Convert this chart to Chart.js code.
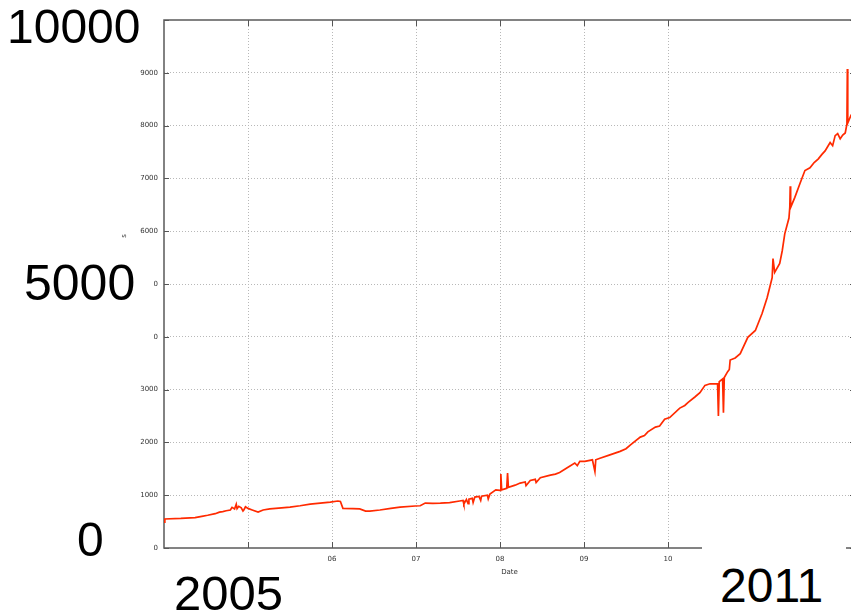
<!DOCTYPE html>
<html>
<head>
<meta charset="utf-8">
<script src="https://cdn.jsdelivr.net/npm/chart.js@4/dist/chart.umd.min.js"></script>
<style>
  html, body { margin: 0; padding: 0; background: #fff; overflow: hidden; width: 851px; height: 614px; }
  #wrap { position: relative; width: 851px; height: 614px; overflow: hidden; }
  #wrap canvas { position: absolute; left: 0; top: 0; }
  .mask { position: absolute; background: #fff; }
  .big { position: absolute; font-family: "Liberation Sans", Arial, sans-serif; font-size: 48px; line-height: 48px; color: #000; white-space: nowrap; }
</style>
</head>
<body>
<div id="wrap">
  <canvas id="c" width="860" height="614"></canvas>
  <div class="mask" style="left:20px;top:245px;width:133px;height:100px"></div>
  <div class="mask" style="left:150px;top:551px;width:145px;height:63px"></div>
  <div class="mask" style="left:702px;top:532px;width:144px;height:82px"></div>
  <div class="big" style="left:7px;top:3px">10000</div>
  <div class="big" style="left:24px;top:258px;font-size:50px;line-height:50px">5000</div>
  <div class="big" style="left:77px;top:516px">0</div>
  <div class="big" style="left:174px;top:569px;font-size:49px;line-height:49px">2005</div>
  <div class="big" style="left:720px;top:562px">2011</div>
</div>
<script>
// Daily totals, sampled as decimal years
const dates = [
  2004.00, 2004.01, 2004.20, 2004.37, 2004.45, 2004.52, 2004.61, 2004.66, 2004.70, 2004.74,
  2004.79, 2004.81, 2004.84, 2004.86, 2004.87, 2004.89, 2004.92, 2004.94, 2004.95, 2004.97,
  2005.00, 2005.05, 2005.12, 2005.18, 2005.26, 2005.40, 2005.50, 2005.62, 2005.74, 2005.86,
  2005.98, 2006.07, 2006.10, 2006.13, 2006.25, 2006.33, 2006.40, 2006.45, 2006.57, 2006.70,
  2006.81, 2006.99, 2007.05, 2007.11, 2007.20, 2007.29, 2007.40, 2007.52, 2007.56, 2007.57,
  2007.60, 2007.62, 2007.63, 2007.67, 2007.68, 2007.70, 2007.75, 2007.77, 2007.78, 2007.85,
  2007.86, 2007.88, 2007.95, 2008.00, 2008.01, 2008.02, 2008.08, 2008.09, 2008.10, 2008.18,
  2008.24, 2008.30, 2008.31, 2008.36, 2008.42, 2008.43, 2008.48, 2008.60, 2008.66, 2008.71,
  2008.80, 2008.89, 2008.92, 2008.95, 2009.01, 2009.10, 2009.13, 2009.14, 2009.19, 2009.30,
  2009.43, 2009.50, 2009.55, 2009.67, 2009.72, 2009.76, 2009.85, 2009.90, 2009.96, 2010.02,
  2010.14, 2010.20, 2010.24, 2010.32, 2010.38, 2010.44, 2010.50, 2010.59, 2010.60, 2010.61,
  2010.65, 2010.66, 2010.67, 2010.71, 2010.73, 2010.74, 2010.80, 2010.86, 2010.95, 2011.04,
  2011.12, 2011.18, 2011.21, 2011.24, 2011.25, 2011.26, 2011.27, 2011.33, 2011.36, 2011.39,
  2011.44, 2011.45, 2011.455, 2011.46, 2011.51, 2011.57, 2011.63, 2011.69, 2011.74, 2011.79,
  2011.83, 2011.87, 2011.90, 2011.93, 2011.96, 2011.99, 2012.02, 2012.05, 2012.08, 2012.11,
  2012.13, 2012.135, 2012.14, 2012.18, 2012.22
];
const counts = [
  490, 550, 560, 575, 600, 620, 650, 680, 690, 705,
  720, 770, 740, 830, 745, 790, 760, 700, 720, 780,
  750, 720, 680, 720, 740, 760, 775, 800, 830, 850,
  870, 890, 880, 750, 745, 740, 700, 700, 720, 750,
  775, 795, 800, 850, 845, 850, 860, 890, 900, 830,
  920, 840, 925, 940, 860, 965, 975, 900, 980, 1000,
  930, 1020, 1100, 1090, 1400, 1100, 1130, 1420, 1150, 1190,
  1230, 1250, 1180, 1280, 1300, 1240, 1330, 1380, 1400, 1430,
  1520, 1610, 1560, 1640, 1640, 1670, 1450, 1670, 1700, 1760,
  1830, 1880, 1950, 2100, 2130, 2200, 2290, 2310, 2440, 2470,
  2650, 2700, 2760, 2860, 2940, 3080, 3110, 3110, 2500, 3150,
  3200, 2560, 3230, 3340, 3380, 3560, 3600, 3680, 3990, 4120,
  4440, 4740, 4930, 5120, 5480, 5480, 5220, 5390, 5630, 5950,
  6250, 6450, 6850, 6450, 6640, 6900, 7150, 7200, 7300, 7370,
  7450, 7520, 7600, 7680, 7620, 7810, 7850, 7750, 7820, 7860,
  8030, 9070, 8050, 8200, 8250
];
const xTickYears = [2005, 2006, 2007, 2008, 2009, 2010];
const yTicks = [0, 1000, 2000, 3000, 4000, 5000, 6000, 7000, 8000, 9000, 10000];
const xLabel = 'Date';
const yLabel = 's';

const tinyFont = { family: '"DejaVu Sans", sans-serif', size: 7 };

// gnuplot-style frame with inward tic marks, plus the axis labels
const framePlugin = {
  id: 'frame',
  beforeDatasetsDraw(chart) {
    const { ctx, chartArea: a, scales: { x, y } } = chart;
    ctx.save();
    ctx.strokeStyle = '#555';
    ctx.lineWidth = 1;
    ctx.beginPath();
    x.ticks.forEach(t => {
      const px = Math.round(x.getPixelForValue(t.value)) + 0.5;
      ctx.moveTo(px, a.bottom); ctx.lineTo(px, a.bottom - 6);
      ctx.moveTo(px, a.top); ctx.lineTo(px, a.top + 6);
    });
    y.ticks.forEach(t => {
      const py = Math.round(y.getPixelForValue(t.value)) + 0.5;
      ctx.moveTo(a.left, py); ctx.lineTo(a.left + 5, py);
      ctx.moveTo(a.right, py); ctx.lineTo(a.right - 5, py);
    });
    ctx.stroke();
    ctx.lineWidth = 1.5;
    ctx.strokeStyle = '#5a5a5a';
    ctx.strokeRect(a.left, a.top, a.right - a.left, a.bottom - a.top);
    ctx.restore();
  },
  afterDraw(chart) {
    const { ctx, chartArea: a } = chart;
    ctx.save();
    ctx.fillStyle = '#333';
    ctx.font = '7px "DejaVu Sans", sans-serif';
    ctx.textAlign = 'center';
    ctx.textBaseline = 'middle';
    ctx.fillText(xLabel, (a.left + a.right) / 2, a.bottom + 24);
    ctx.translate(a.left - 40, 236);
    ctx.rotate(-Math.PI / 2);
    ctx.fillText(yLabel, 0, 0);
    ctx.restore();
  }
};

new Chart(document.getElementById('c'), {
  type: 'line',
  data: {
    datasets: [{
      data: dates.map((d, i) => ({ x: d, y: counts[i] })),
      borderColor: '#ff2a00',
      borderWidth: 1.7,
      pointRadius: 0,
      tension: 0,
      fill: false
    }]
  },
  options: {
    responsive: false,
    animation: false,
    events: [],
    layout: { padding: { left: 0, top: 20, right: 5, bottom: 0 } },
    plugins: { legend: { display: false }, tooltip: { enabled: false } },
    scales: {
      x: {
        type: 'linear',
        min: 2004,
        max: 2004 + 691 / 84,
        afterBuildTicks: s => { s.ticks = xTickYears.map(v => ({ value: v })); },
        afterFit: s => { s.height = 66; },
        grid: { color: '#b8b8b8', lineWidth: 1, drawTicks: false, borderDash: [1, 2] },
        border: { display: false, dash: [1, 2] },
        ticks: {
          font: tinyFont, color: '#333', padding: 7, maxRotation: 0, autoSkip: false,
          callback: v => String(v).slice(2)
        }
      },
      y: {
        min: 0,
        max: 10000,
        afterBuildTicks: s => { s.ticks = yTicks.map(v => ({ value: v })); },
        afterFit: s => { s.width = 164; },
        grid: {
          color: c => (c.tick && (c.tick.value === 0 || c.tick.value === 10000)) ? 'rgba(0,0,0,0)' : '#b8b8b8',
          lineWidth: 1, drawTicks: false, borderDash: [1, 2]
        },
        border: { display: false, dash: [1, 2] },
        ticks: {
          font: tinyFont, color: '#333', padding: 6, autoSkip: false,
          callback: v => v === 10000 ? '' : String(v)
        }
      }
    }
  },
  plugins: [framePlugin]
});
</script>
</body>
</html>
